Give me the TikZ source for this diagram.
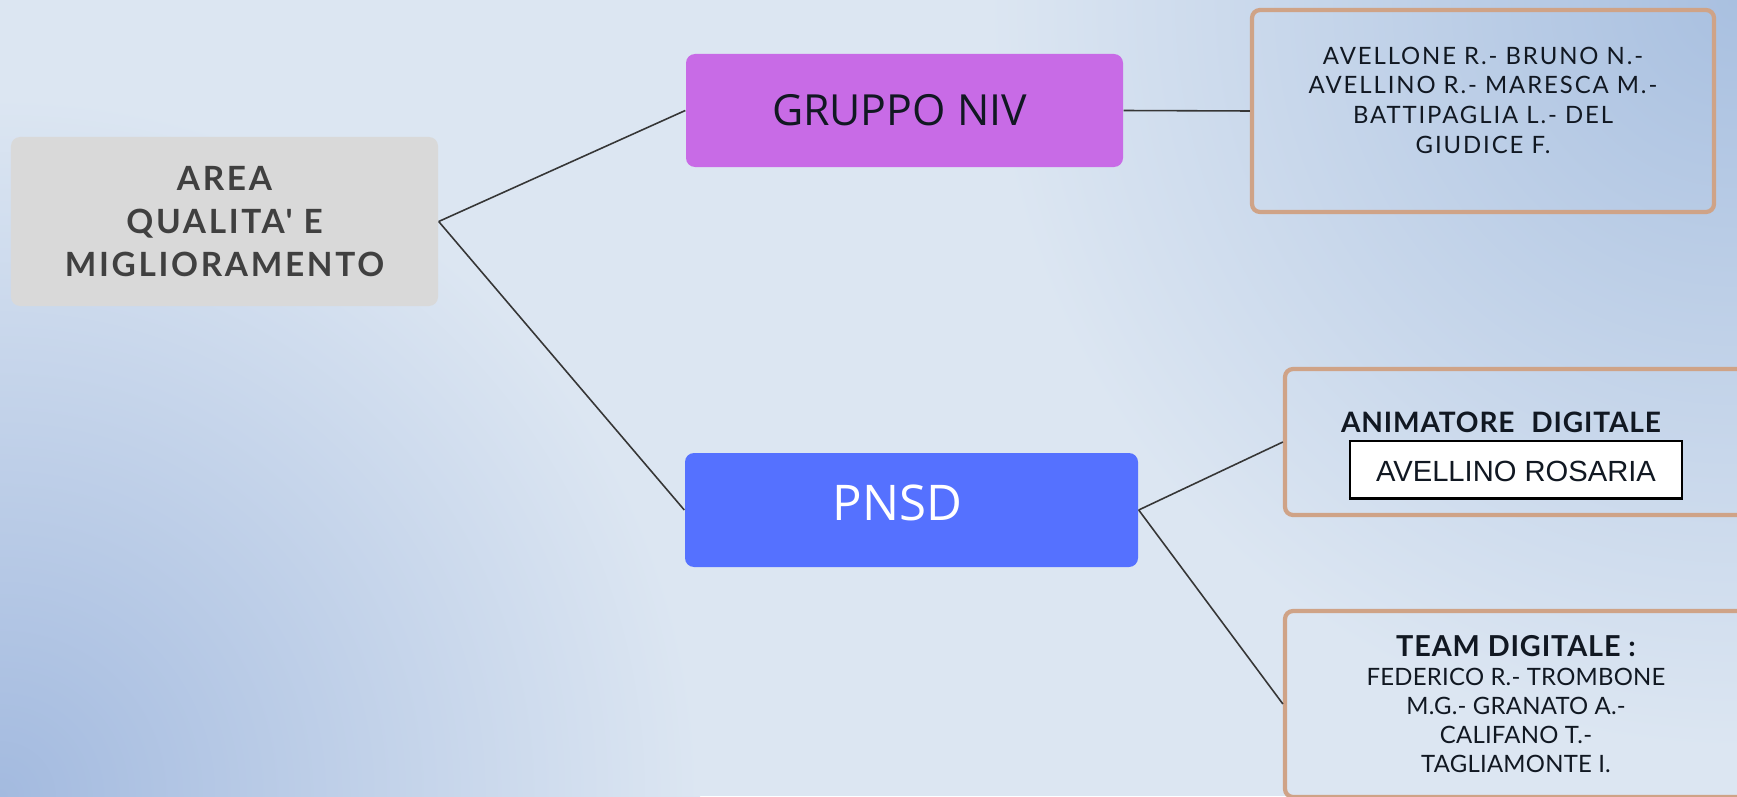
\documentclass[tikz,border=0pt]{standalone}
\usepackage{fontspec}
\setmainfont{Open Sans}
\newfontfamily\boxfont[LetterSpace=8]{Lato}
\newfontfamily\boxbold[LetterSpace=3]{Lato}
\newfontfamily\areafont[LetterSpace=8]{Lato}
\newfontfamily\teamfont[LetterSpace=1]{Lato}
\newfontfamily\rosariafont{Liberation Sans}
\definecolor{bgbase}{HTML}{DCE6F2}
\definecolor{bgTR}{HTML}{A9C0E0}
\definecolor{bgBL}{HTML}{A3BADF}
\definecolor{areagray}{HTML}{D9D9D9}
\definecolor{areatext}{HTML}{404040}
\definecolor{nivpurple}{HTML}{C86BE6}
\definecolor{pnsdblue}{HTML}{5571FF}
\definecolor{tanline}{HTML}{CFA387}
\definecolor{linkgray}{HTML}{363636}
\definecolor{inktext}{HTML}{111822}
\tikzset{
  areabox/.style={fill=areagray, rounded corners=0.09cm, minimum width=4.27cm, minimum height=1.69cm,
    align=center, text=areatext, font=\areafont\bfseries\fontsize{9.5}{12.3}\selectfont},
  topicbox/.style={rounded corners=0.09cm, inner sep=0pt},
  namebox/.style={draw=tanline, line width=1.2pt, rounded corners=0.08cm, inner xsep=0.1cm,
    inner ysep=0.05cm, minimum width=4.62cm, text=inktext},
  link/.style={draw=linkgray, line width=0.45pt}
}
\begin{document}
\begin{tikzpicture}
\useasboundingbox (0,0) rectangle (17.37,7.96);
\clip (0,0) rectangle (17.37,7.96);
% background
\fill[bgbase] (0,0) rectangle (17.37,7.96);
\shade[inner color=bgTR, outer color=bgbase] (17.37,7.96) circle (7.5);
\shade[inner color=bgBL, outer color=bgbase] (0,0) circle (7);
\node[areabox] (area) at (2.245,5.745) {AREA\\QUALITA' E\\MIGLIORAMENTO};
\node[topicbox, fill=nivpurple, minimum width=4.37cm, minimum height=1.13cm, text=inktext,
  font=\fontsize{12.2}{15}\selectfont] (niv) at (9.045,6.855) {GRUPPO NIV\kern0.1cm};
\node[topicbox, fill=pnsdblue, minimum width=4.53cm, minimum height=1.14cm, text=white,
  font=\fontsize{14}{17}\selectfont] (pnsd) at (9.115,2.86) {PNSD\kern0.28cm\rule[-0.14cm]{0pt}{0pt}};
\node[namebox, minimum height=2.02cm] (nivnames) at (14.83,6.85) {\parbox[c][1.92cm][t]{4.42cm}{\centering
  \boxfont\fontsize{6.8}{8.5}\selectfont\rule{0pt}{0.49cm}AVELLONE R.- BRUNO N.-\\AVELLINO R.- MARESCA M.-\\
  BATTIPAGLIA L.- DEL\\GIUDICE F.}};
\node[namebox, minimum height=1.46cm] (animatore) at (15.16,3.54) {\parbox[c][1.36cm][t]{4.42cm}{\centering
  \setlength\lineskip{2.3pt}\setlength\fboxsep{0pt}\setlength\fboxrule{0.6pt}%
  \boxbold\bfseries\fontsize{8}{9.6}\selectfont\rule{0pt}{0.58cm}ANIMATORE\hspace{0.6em}DIGITALE\kern0.3cm\\
  \fcolorbox{black}{white}{\makebox[3.3cm]{\rule[-0.16cm]{0pt}{0.55cm}\rosariafont\mdseries\fontsize{8.3}{10}\selectfont AVELLINO ROSARIA}}}};
\node[namebox, minimum height=1.86cm, align=center, font=\teamfont\fontsize{6.8}{8.3}\selectfont] (team) at (15.16,0.92)
  {{\boxbold\bfseries\fontsize{8.2}{10}\selectfont TEAM DIGITALE :}\\FEDERICO R.- TROMBONE\\M.G.- GRANATO A.-\\CALIFANO T.-\\TAGLIAMONTE I.};
\draw[link] (area.east) -- (niv.west);
\draw[link] (area.east) -- (pnsd.west);
\draw[link] (niv.east) -- (nivnames.west);
\draw[link] (pnsd.east) -- (animatore.west);
\draw[link] (pnsd.east) -- (team.west);
\end{tikzpicture}
\end{document}
